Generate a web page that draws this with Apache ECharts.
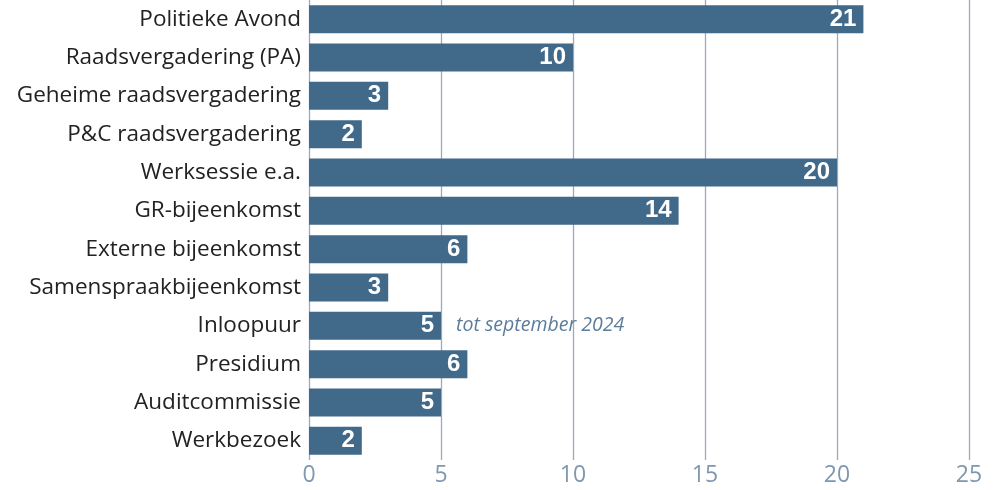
<!DOCTYPE html>
<html>
<head>
<meta charset="utf-8">
<script src="https://cdn.jsdelivr.net/npm/echarts@6/dist/echarts.min.js"></script>
<style>
  html, body { margin: 0; padding: 0; background: #fff; }
  #chart { width: 1000px; height: 490px; }
</style>
</head>
<body>
<div id="chart"></div>
<script>
// meetings per type, top to bottom as in the picture
const categories = [
  'Politieke Avond',
  'Raadsvergadering (PA)',
  'Geheime raadsvergadering',
  'P&C raadsvergadering',
  'Werksessie e.a.',
  'GR-bijeenkomst',
  'Externe bijeenkomst',
  'Samenspraakbijeenkomst',
  'Inloopuur',
  'Presidium',
  'Auditcommissie',
  'Werkbezoek'
]
const counts = [21, 10, 3, 2, 20, 14, 6, 3, 5, 6, 5, 2]
const xTicks = [0, 5, 10, 15, 20, 25]
const noteCategory = 'Inloopuur'
const noteText = 'tot september 2024'

const barColor = '#41698a'
const gridColor = '#9aaabd'

const chart = echarts.init(document.getElementById('chart'))
chart.setOption({
  animation: false,
  grid: {
    left: 309,
    right: 31,
    top: 0,
    bottom: 30
  },
  xAxis: {
    type: 'value',
    min: xTicks[0],
    max: xTicks[xTicks.length - 1],
    interval: 5,
    axisLine: { show: false },
    axisTick: { show: false },
    splitLine: { lineStyle: { color: gridColor, width: 1.3 } },
    axisLabel: {
      color: '#7f98b0',
      fontSize: 23,
      fontFamily: 'Open Sans',
      margin: 4
    }
  },
  yAxis: {
    type: 'category',
    inverse: true,
    data: categories,
    axisLine: { show: false },
    axisTick: { show: false },
    axisLabel: {
      color: '#222',
      fontSize: 22.5,
      fontFamily: 'Open Sans',
      margin: 8
    }
  },
  series: [{
    type: 'bar',
    data: counts,
    barCategoryGap: '27%',
    itemStyle: { color: barColor },
    label: {
      show: true,
      position: 'insideRight',
      color: '#fff',
      fontSize: 24,
      fontWeight: 'bold',
      fontFamily: 'Liberation Sans',
      distance: 7
    },
    markPoint: {
      symbol: 'circle',
      symbolSize: 0,
      data: [{
        coord: [counts[categories.indexOf(noteCategory)], noteCategory],
        label: {
          show: true,
          formatter: noteText,
          position: 'right',
          distance: 15,
          color: '#5b7d9b',
          fontSize: 19.5,
          fontStyle: 'italic',
          fontFamily: 'Open Sans'
        }
      }]
    }
  }]
})
</script>
</body>
</html>
